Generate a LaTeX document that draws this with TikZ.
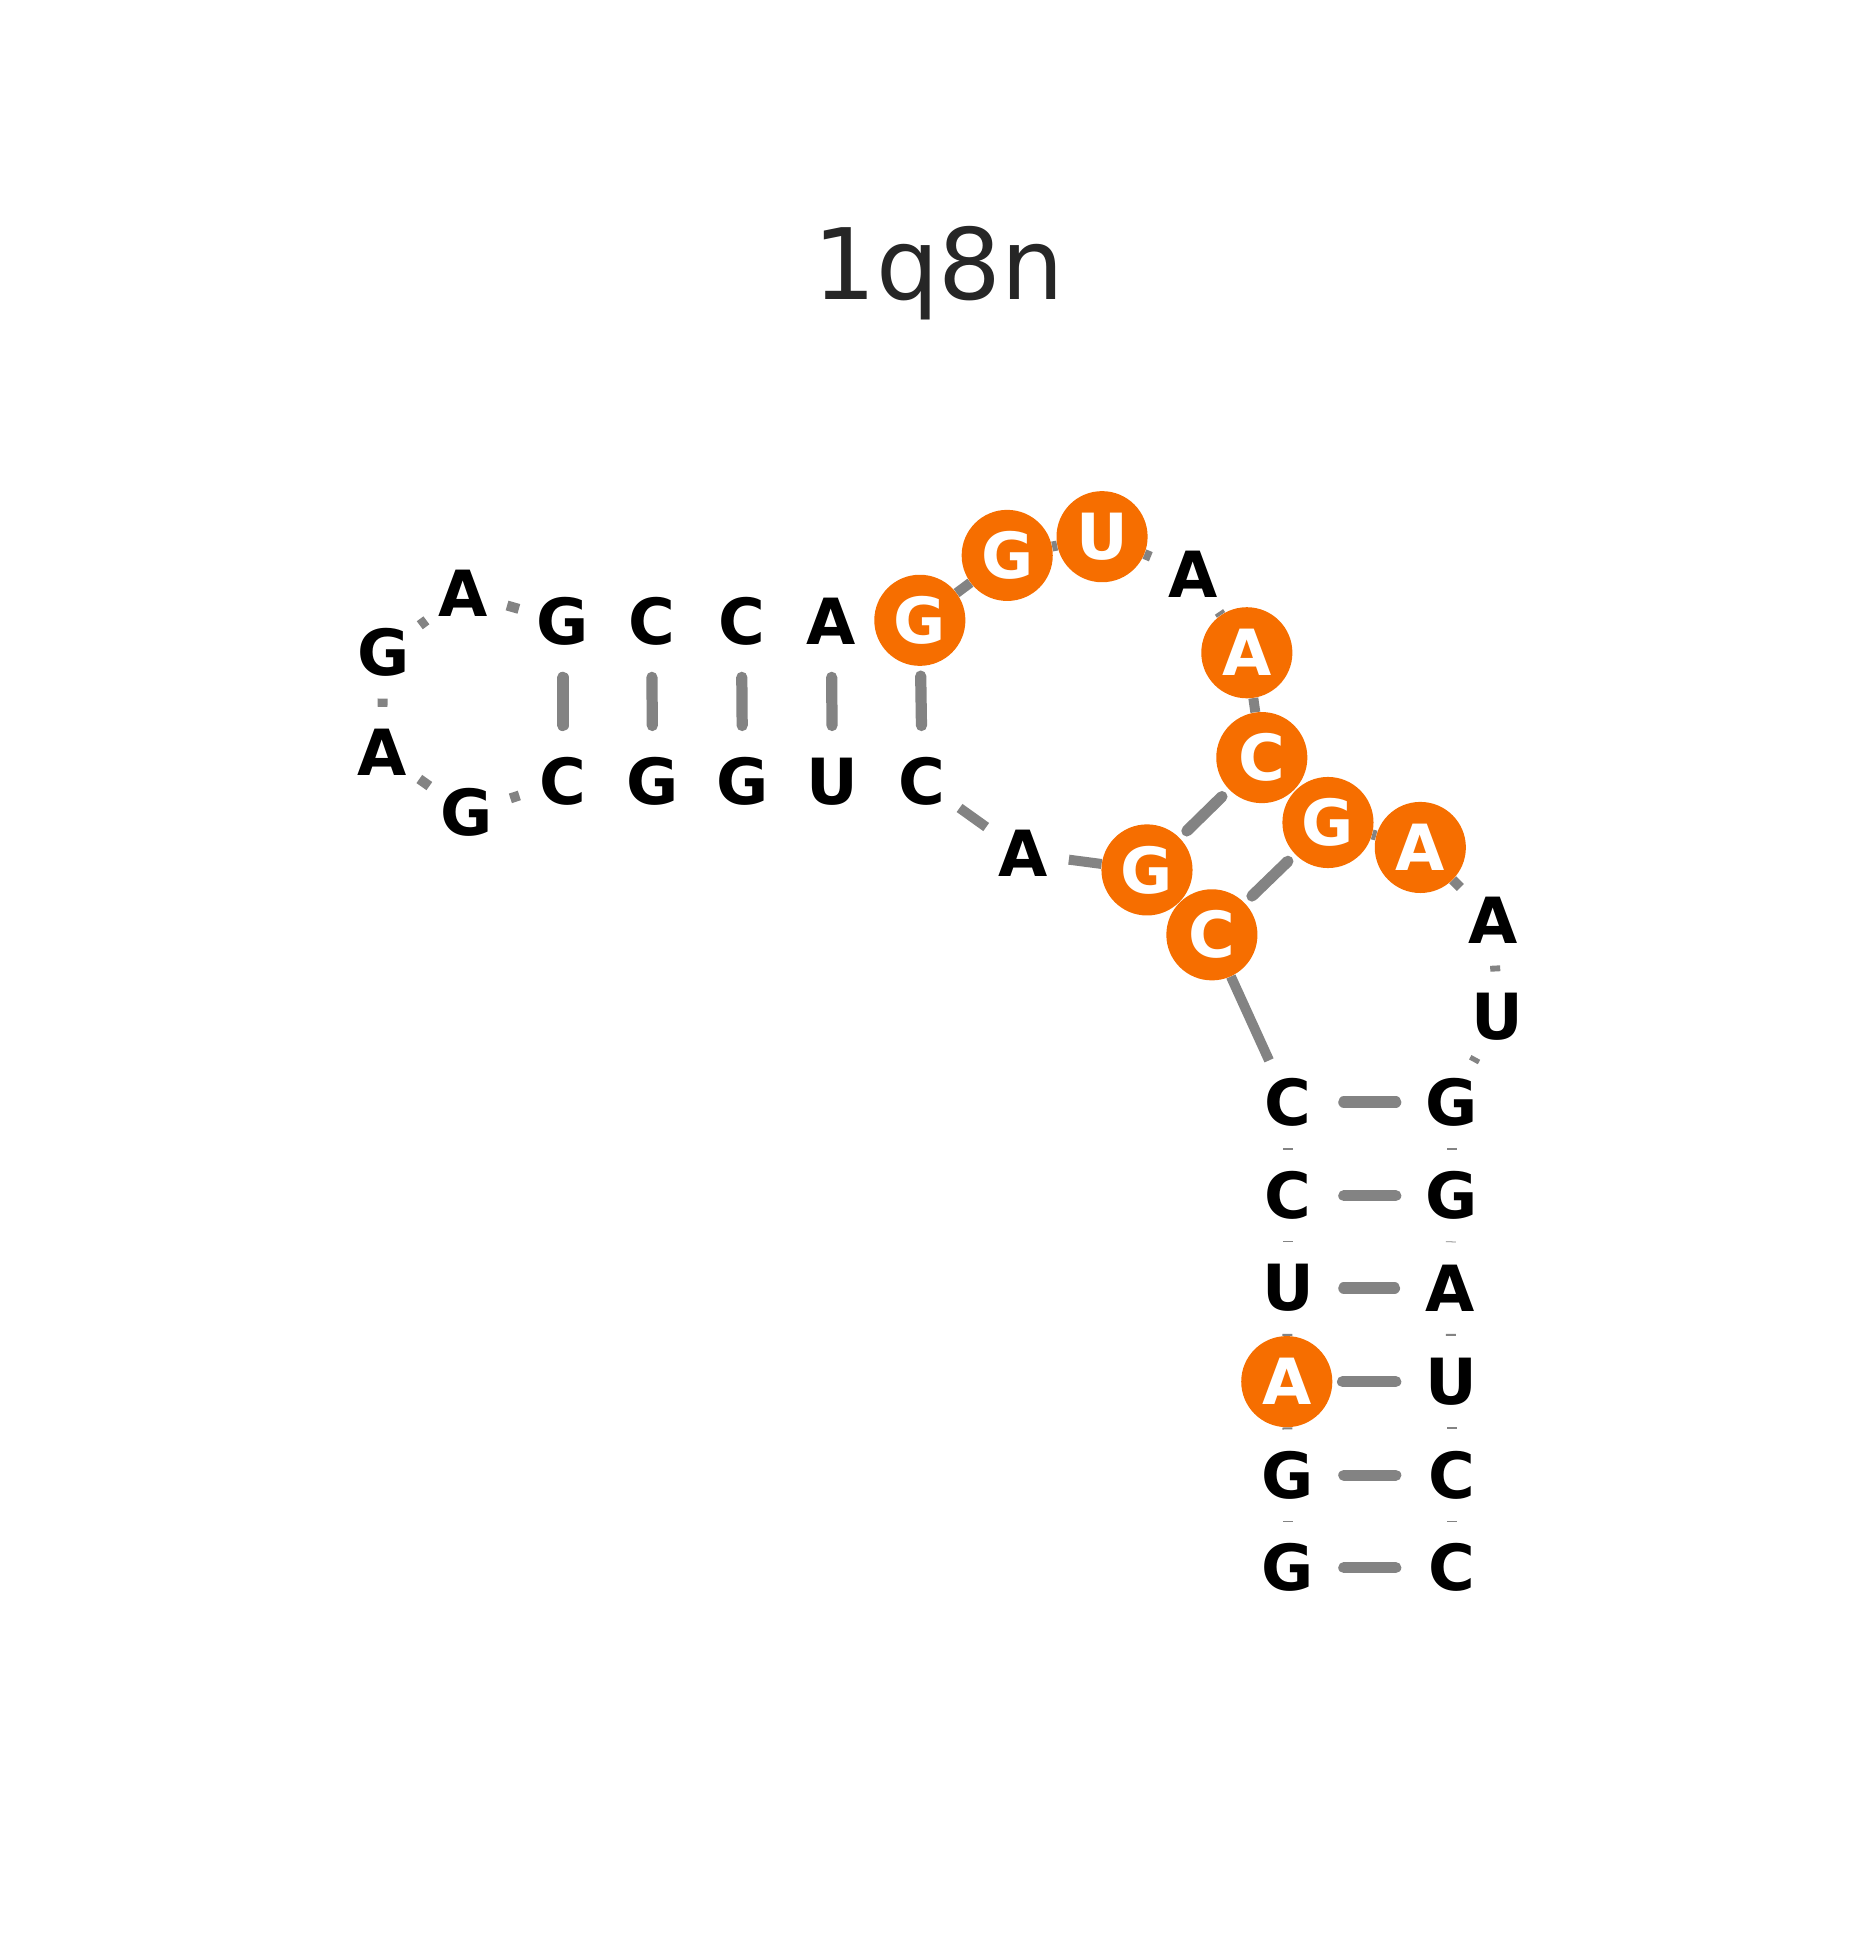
\documentclass[tikz,border=0pt]{standalone}
\usepackage{fontspec}
\setmainfont{DejaVu Sans}
\usetikzlibrary{positioning,backgrounds}
\definecolor{hiorange}{RGB}{246,110,0}
\definecolor{bbgray}{RGB}{131,131,131}
\definecolor{titlegray}{RGB}{38,38,38}
\newcommand{\ntfont}[0]{\fontsize{51}{51}\selectfont\bfseries}

\begin{document}
\begin{tikzpicture}[x=1pt,y=-1pt,
    nuc/.style={circle, minimum size=73pt, inner sep=0pt, font=\ntfont, text=black},
    hl/.style={nuc, fill=hiorange, text=white},
    bb/.style={draw=bbgray, line width=8pt},
    bp/.style={draw=bbgray, line width=9pt, line cap=round, shorten <=8pt, shorten >=8pt}]
  \useasboundingbox (0,0) rectangle (1500,1564);
  \node[font=\fontsize{79}{79}\selectfont, text=titlegray, anchor=base] (title) at (752,240) {1q8n};
  % nucleotides, 5' to 3'
  \foreach \i/\b/\x/\y/\s in {1/G/1032/1256/nuc, 2/G/1032/1182/nuc, 3/A/1031/1107/hl,
      4/U/1032/1032/nuc, 5/C/1032/958/nuc, 6/C/1032/883/nuc, 7/C/971/749/hl,
      8/G/919/697/hl, 9/A/820/684/nuc, 10/C/739/626/nuc, 11/U/667/626/nuc,
      12/G/595/626/nuc, 13/G/523/626/nuc, 14/C/451/626/nuc, 15/G/374/651/nuc,
      16/A/306/603/nuc, 17/G/307/523/nuc, 18/A/371/475/nuc, 19/G/451/498/nuc,
      20/C/522/498/nuc, 21/C/594/498/nuc, 22/A/666/498/nuc, 23/G/737/497/hl,
      24/G/807/445/hl, 25/U/883/430/hl, 26/A/956/460/nuc, 27/A/999/523/hl,
      28/C/1011/607/hl, 29/G/1064/659/hl, 30/A/1138/679/hl, 31/A/1196/737/nuc,
      32/U/1200/815/nuc, 33/G/1163/883/nuc, 34/G/1163/958/nuc, 35/A/1162/1032/nuc,
      36/U/1163/1107/nuc, 37/C/1163/1182/nuc, 38/C/1163/1256/nuc}
    \node[\s] (n\i) at (\x,\y) {\b};
  \begin{pgfonlayer}{background}
    % backbone (touching neighbours left out)
    \foreach \a/\b in {1/2, 2/3, 3/4, 4/5, 5/6, 6/7, 8/9, 9/10, 14/15, 15/16,
        16/17, 17/18, 18/19, 23/24, 24/25, 25/26, 26/27, 27/28, 29/30, 30/31,
        31/32, 32/33, 33/34, 34/35, 35/36, 36/37, 37/38}
      \draw[bb] (n\a) -- (n\b);
    % base pairs
    \foreach \a/\b in {1/38, 2/37, 3/36, 4/35, 5/34, 6/33, 7/29, 8/28,
        10/23, 11/22, 12/21, 13/20, 14/19}
      \draw[bp] (n\a) -- (n\b);
  \end{pgfonlayer}
\end{tikzpicture}
\end{document}
